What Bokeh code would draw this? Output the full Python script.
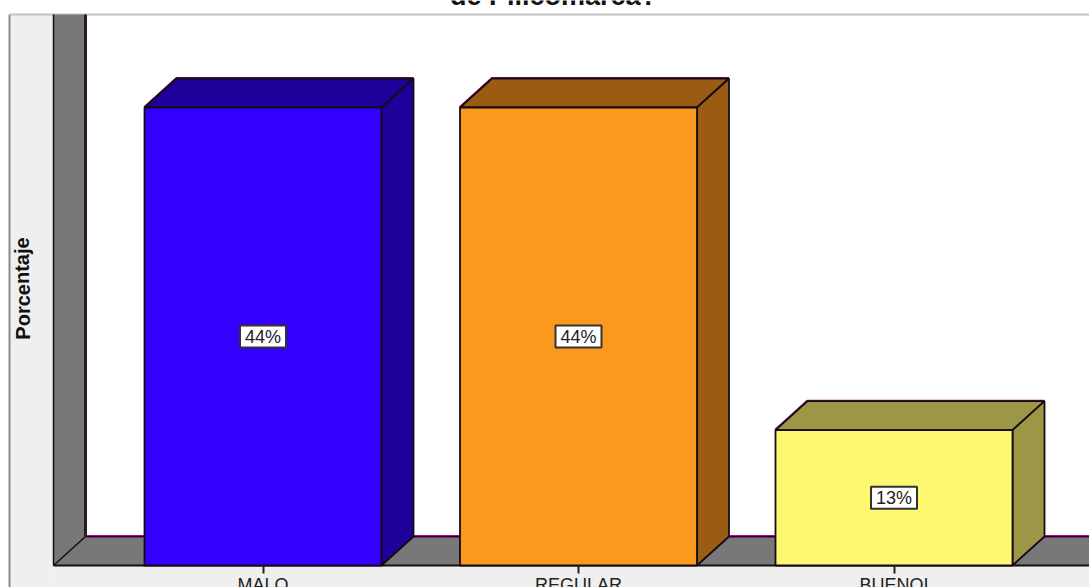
from bokeh.core.properties import value
from bokeh.embed import file_html
from bokeh.models import FixedTicker, Range1d
from bokeh.plotting import figure
from bokeh.resources import INLINE

# Survey results
categories = ["MALO", "REGULAR", "BUENOI"]
percentages = [44, 44, 13]
front_colors = ["#3300ff", "#fb991f", "#fdf870"]
shade_colors = ["#20009a", "#9a5c12", "#9b9746"]
title_text = "de Pillcomarca?"
y_title = "Porcentaje"

WIDTH, HEIGHT = 1089, 587
BASE_PX = 565         # screen row of the zero line
PX_PER_PCT = 458 / 44 # vertical scale
FIRST_BAR_PX = 262.5  # screen column of the first category
STEP_PX = 315.5       # spacing between categories
BAR_W = 237 / STEP_PX
DEPTH_X = 32 / STEP_PX
DEPTH_Y = 29 / PX_PER_PCT


def sx(px):
    """Screen column to category coordinate."""
    return (px - FIRST_BAR_PX) / STEP_PX


def sy(px):
    """Screen row to percentage coordinate."""
    return (BASE_PX - px) / PX_PER_PCT


p = figure(
    width=WIDTH, height=HEIGHT, output_backend="svg", toolbar_location=None,
    x_range=Range1d(sx(0), sx(WIDTH)), y_range=Range1d(sy(HEIGHT), sy(0)),
    min_border=0, min_border_left=0, min_border_right=0, min_border_top=0, min_border_bottom=0,
    background_fill_color="white", border_fill_color="white", outline_line_color=None,
)
p.grid.visible = False
p.yaxis.visible = False

# Category axis, pinned to the zero line
p.xaxis.fixed_location = 0
p.xaxis.ticker = FixedTicker(ticks=list(range(len(categories))))
p.xaxis.major_label_overrides = {i: c for i, c in enumerate(categories)}
p.xaxis.major_label_text_font = "Liberation Sans"
p.xaxis.major_label_text_font_size = "18px"
p.xaxis.major_label_text_color = "#222222"
p.xaxis.major_label_standoff = 1
p.xaxis.major_tick_in = 0
p.xaxis.major_tick_out = 8
p.xaxis.major_tick_line_color = "#222222"
p.xaxis.major_tick_line_width = 2
p.xaxis.minor_tick_line_color = None
p.xaxis.axis_line_color = None

EDGE = "#140c14"
FRINGE = "#a0107f"
right = sx(WIDTH)
wall_l, wall_r = sx(53), sx(85)
top, base = sy(14), 0
back = DEPTH_Y

# Light panel around the chart area, with its frame lines
p.quad(left=sx(9), right=wall_l, bottom=sy(HEIGHT), top=top, fill_color="#efefef", line_color=None)
p.quad(left=wall_l, right=right, bottom=sy(HEIGHT), top=base, fill_color="#efefef", line_color=None)
p.line([sx(9), sx(9)], [sy(HEIGHT), top], line_color="#8a8a8a", line_width=2)
p.line([sx(9), right], [top, top], line_color="#c2c2c2", line_width=2)

# Side wall and floor
p.patch([wall_l, wall_r, wall_r, wall_l], [top, top, back, base], fill_color="#787878", line_color=None)
p.patch([wall_l, wall_r, right, right], [base, back, back, base], fill_color="#787878", line_color=None)
p.line([wall_r, right], [back, back], line_color=FRINGE, line_width=3)
p.line([wall_r, right], [back, back], line_color=EDGE, line_width=1.2)
p.line([wall_r, wall_r], [top, back], line_color="#2a1a2a", line_width=3)
p.line([wall_l, wall_l], [top, base], line_color=EDGE, line_width=1.5)
p.line([wall_l, wall_r], [base, back], line_color=EDGE, line_width=1.5)
p.line([wall_l, right], [base, base], line_color=EDGE, line_width=2)

# Extruded bars
for i, (pct, front, shade) in enumerate(zip(percentages, front_colors, shade_colors)):
    l, r = i - BAR_W / 2, i + BAR_W / 2
    p.line([l, l + DEPTH_X, r + DEPTH_X], [pct, pct + DEPTH_Y, pct + DEPTH_Y],
           line_color=FRINGE, line_width=3)
    p.patch([l, l + DEPTH_X, r + DEPTH_X, r], [pct, pct + DEPTH_Y, pct + DEPTH_Y, pct],
            fill_color=shade, line_color=EDGE, line_width=1.8)
    p.patch([r, r + DEPTH_X, r + DEPTH_X, r], [base, DEPTH_Y, pct + DEPTH_Y, pct],
            fill_color=shade, line_color=EDGE, line_width=1.8)
    p.quad(left=l, right=r, bottom=base, top=pct, fill_color=front, line_color=EDGE, line_width=1.8)

# Value labels in the middle of each bar
xs = list(range(len(categories)))
mids = [v / 2 for v in percentages]
p.rect(xs, mids, width=46, height=22, width_units="screen", height_units="screen",
       fill_color="white", line_color="#333333", line_width=2)
p.text(xs, mids, text=[f"{v}%" for v in percentages], text_align="center", text_baseline="middle",
       text_font=value("Liberation Sans"), text_font_size="18px", text_color="#222222")

# Axis title and chart title
p.text([sx(22)], [sy(288)], text=[y_title], angle=1.5708, text_align="center", text_baseline="middle",
       text_font=value("Liberation Sans"), text_font_style="bold", text_font_size="20px", text_color="#111111")
p.text([sx(553)], [sy(-5)], text=[title_text], text_align="center", text_baseline="alphabetic",
       text_font=value("Liberation Sans"), text_font_style="bold", text_font_size="27px", text_color="#111111")

open("out.html", "w").write(file_html(p, INLINE))
